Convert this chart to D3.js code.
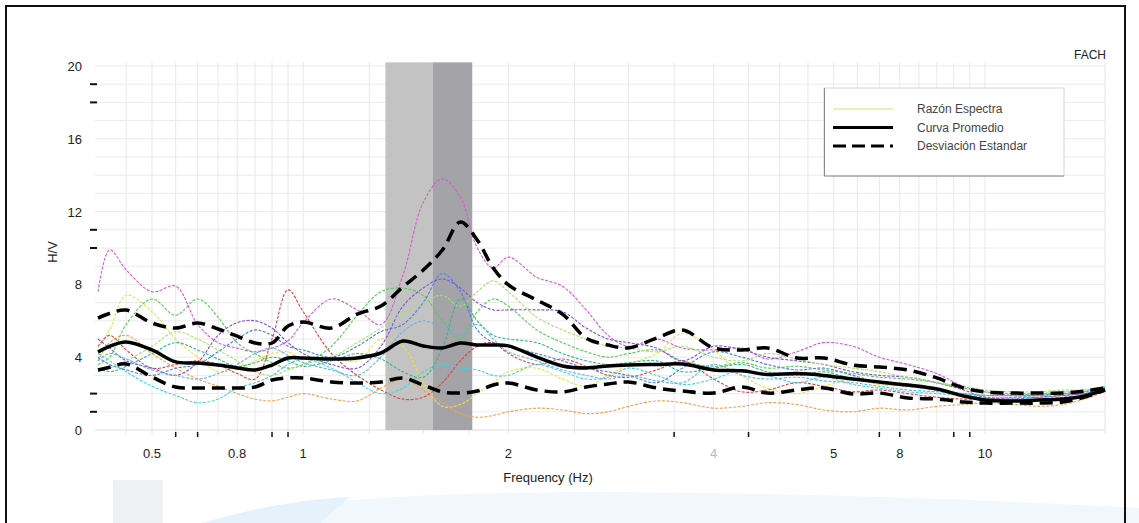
<!DOCTYPE html>
<html>
<head>
<meta charset="utf-8">
<script src="https://cdn.jsdelivr.net/npm/d3@7"></script>
<style>
	body { margin: 0; background: #fff; }
	svg { display: block; font-family: "Liberation Sans", Arial, sans-serif; }
</style>
</head>
<body>
<script>
// frecuencias (Hz) comunes a todas las curvas
var freqs = [0.5,0.52,0.55,0.6,0.65,0.7,0.75,0.8,0.85,0.9,0.95,1.0,1.1,1.2,1.3,1.4,1.5,1.6,1.7,1.8,1.9,2.0,2.2,2.4,2.6,2.8,3.0,3.3,3.6,4.0,4.4,4.8,5.3,5.8,6.4,7.0,7.7,8.5,9.3,10,11,12,13,14,15];

var promedio = [4.29,4.6,4.84,4.40,3.74,3.68,3.57,3.41,3.30,3.57,3.96,3.96,3.90,3.96,4.23,4.89,4.62,4.51,4.78,4.67,4.67,4.62,4.01,3.52,3.41,3.52,3.57,3.60,3.62,3.30,3.25,3.05,3.10,3.00,2.80,2.64,2.47,2.25,1.87,1.65,1.59,1.65,1.70,1.87,2.20];
var desvSup = [6.15,6.4,6.59,5.88,5.60,5.88,5.55,5.16,4.78,4.78,5.71,5.93,5.60,6.37,6.81,7.86,8.79,9.89,11.43,10.44,8.90,7.97,7.14,6.37,5.05,4.67,4.51,5.05,5.49,4.51,4.40,4.51,3.96,3.96,3.57,3.46,3.30,2.86,2.31,2.09,2.03,2.03,2.03,2.14,2.31];
var desvInf = [3.30,3.45,3.63,2.91,2.36,2.31,2.31,2.31,2.36,2.75,2.86,2.86,2.64,2.58,2.64,2.86,2.47,2.09,2.03,2.14,2.47,2.58,2.20,2.09,2.36,2.53,2.64,2.31,2.14,2.03,2.36,2.03,2.20,2.31,1.98,2.03,1.76,1.70,1.54,1.48,1.48,1.48,1.54,1.81,2.20];

// razones espectrales individuales
var razones = [
	{color: "#dd55dd", v: [7.6,9.9,8.8,7.6,7.9,5.8,4.8,4.5,4.3,4.5,4.9,5.9,7.2,6.6,5.8,8.5,12.5,13.8,12.8,10.0,8.9,9.5,8.4,7.9,6.6,5.2,4.6,5.0,4.5,4.4,4.5,3.9,4.3,4.8,4.6,4.0,3.6,3.1,2.4,2.1,1.9,1.9,2.0,2.0,2.2]},
	{color: "#55cc55", v: [3.6,4.0,5.8,7.2,6.3,7.2,6.2,4.8,4.2,3.7,3.4,3.6,4.6,6.3,7.6,7.8,7.4,6.0,5.0,6.5,7.2,6.8,5.5,4.8,4.3,4.0,4.2,4.4,3.8,3.5,3.7,3.4,3.5,3.3,3.1,2.9,2.8,2.6,2.3,2.1,2.0,2.0,2.1,2.1,2.3]},
	{color: "#ece050", v: [4.5,5.5,7.4,6.5,5.0,4.0,3.2,3.4,3.8,4.2,4.3,3.9,4.0,3.8,5.0,4.6,2.6,1.3,1.4,2.0,2.6,3.2,3.4,2.8,2.4,3.0,3.6,4.2,5.3,4.4,3.0,2.3,2.0,2.4,2.8,2.5,2.4,2.3,2.0,1.9,1.9,2.0,2.1,2.2,2.3]},
	{color: "#f0a050", v: [3.8,4.8,5.2,4.2,3.4,2.8,2.4,2.0,1.7,1.6,1.8,2.0,1.7,1.6,2.3,2.8,2.2,1.5,0.9,0.7,0.8,1.0,1.2,1.1,0.9,1.0,1.3,1.6,1.5,1.2,1.3,1.5,1.4,1.1,1.0,1.2,1.1,1.3,1.4,1.5,1.4,1.3,1.4,1.7,2.1]},
	{color: "#dd4444", v: [4.6,5.2,4.4,3.4,3.6,3.8,3.6,3.1,2.8,5.0,7.7,6.5,4.2,3.0,2.2,1.7,1.8,2.6,3.8,4.6,4.8,4.2,3.6,3.9,3.5,3.0,2.9,3.3,3.8,2.8,2.1,2.2,2.6,2.4,2.1,2.2,2.0,1.8,1.7,1.7,1.8,1.8,1.9,2.0,2.2]},
	{color: "#44d4dd", v: [4.2,3.8,3.2,2.4,1.9,1.5,1.7,2.3,2.6,3.0,3.6,3.9,3.4,2.6,2.0,2.3,3.2,3.6,3.4,3.3,3.0,3.0,3.6,3.2,2.8,2.9,3.4,3.0,2.5,2.8,3.3,3.0,2.6,2.9,2.5,2.3,2.1,2.0,1.9,1.8,1.8,1.9,2.0,2.1,2.4]},
	{color: "#4a7ee0", v: [4.0,3.6,3.3,3.0,3.4,3.6,4.3,5.0,5.5,5.2,4.6,4.4,4.0,4.6,5.4,5.8,7.0,8.6,7.6,5.5,4.8,4.6,4.2,3.8,3.4,3.2,3.0,2.6,3.4,4.3,4.0,3.6,3.3,3.4,3.0,2.6,2.4,2.2,1.9,1.7,1.7,1.8,1.9,2.0,2.3]},
	{color: "#8050e0", v: [5.0,4.5,3.8,3.4,3.0,3.7,5.2,5.9,6.0,5.6,4.8,4.2,3.6,3.4,4.6,6.8,7.8,8.3,7.8,7.0,6.6,6.6,6.6,6.5,5.6,5.0,4.8,4.5,3.8,4.6,4.4,4.0,3.8,3.6,3.2,3.0,2.9,2.6,2.2,1.8,1.7,1.7,1.8,1.9,2.2]},
	{color: "#a8e070", v: [3.2,3.4,3.8,4.6,5.4,5.0,4.4,3.8,3.2,3.0,3.3,3.6,4.0,4.8,5.6,6.4,7.0,7.4,6.8,7.6,8.2,7.6,6.2,5.5,5.0,4.6,4.5,4.3,4.6,4.0,3.8,4.2,3.9,3.6,3.4,3.2,2.9,2.6,2.4,2.2,2.1,2.1,2.2,2.2,2.4]},
	{color: "#30b890", v: [3.4,3.2,3.5,4.2,4.8,4.4,3.9,3.5,3.7,4.0,3.8,3.5,3.8,4.2,3.9,3.2,2.9,4.5,7.2,6.0,5.2,5.0,4.8,4.2,3.8,3.6,3.7,3.8,3.2,3.4,3.6,3.2,3.0,3.2,2.8,2.6,2.4,2.2,2.0,1.9,1.9,1.9,2.0,2.1,2.3]},
	{color: "#60b4f0", v: [3.8,4.2,3.9,3.3,3.0,2.8,3.1,3.6,4.2,4.5,4.1,3.7,3.3,3.0,4.0,5.4,6.0,5.6,5.2,5.8,5.0,4.3,3.8,3.3,3.0,2.8,3.0,2.7,2.6,3.6,3.0,2.8,2.9,2.7,2.6,2.4,2.2,2.1,2.0,1.9,1.9,2.0,2.0,2.1,2.4]}
];

// bandas sombreadas (Hz)
var bandaClara = [1.32, 1.55];
var bandaOscura = [1.55, 1.77];

// ejes
var yTicks = [0, 4, 8, 12, 16, 20];
var yGrid = d3.range(1, 21);
var yMarcas = [1, 2, 10, 11, 18, 19];
var xTickFreqs = [0.6, 0.8, 1, 2, 4, 6, 7.5, 10];
var xTickLabels = ["0.5", "0.8", "1", "2", "4", "5", "8", "10"];
var xGrid = [0.55,0.6,0.65,0.7,0.75,0.8,0.85,0.9,0.95,1,1.25,1.5,1.75,2,2.5,3,3.5,4,4.5,5,5.5,6,6.5,7,7.5,8,8.5,9,9.5,10];
var xMarcas = [0.65, 0.7, 0.9, 0.95, 3.5, 4.5, 7, 7.5, 9, 9.5];

var leyenda = ["Razón Espectra", "Curva Promedio", "Desviación Estandar"];

(function(w){
	var u = {
		W: 1139, H: 523,
		main: function(){
			var svg = d3.select("body").append("svg")
				.attr("width", u.W).attr("height", u.H);

			// marca de agua clara al fondo
			var wm = svg.append("g").attr("class", "watermark");
			wm.append("path").attr("d", "M200,523 C290,500 430,492 600,492 C800,493 1000,500 1139,508 L1139,523 Z")
				.attr("fill", "#f0f8fd");
			wm.append("path").attr("d", "M205,523 C250,508 300,500 350,497 L320,523 Z").attr("fill", "#e5f2fb");
			wm.append("rect").attr("x", 113).attr("y", 480).attr("width", 50).attr("height", 43).attr("fill", "#eef1f4");

			// marco exterior
			svg.append("rect").attr("x", 6).attr("y", 6).attr("width", 1119).attr("height", 530)
				.attr("fill", "none").attr("stroke", "#111").attr("stroke-width", 2);

			var x = d3.scaleLog().domain([0.5, 15]).range([98, 1105]);
			var y = d3.scaleLinear().domain([0, 20]).range([430, 66]);

			// rejilla
			var g = svg.append("g");
			g.selectAll(".gy").data(yGrid).enter().append("line")
				.attr("x1", x(0.5) - 3).attr("x2", x(15))
				.attr("y1", function(d){ return y(d); }).attr("y2", function(d){ return y(d); })
				.attr("stroke", "#ebebeb").attr("stroke-width", 1);
			g.selectAll(".gx").data(xGrid).enter().append("line")
				.attr("x1", function(d){ return x(d); }).attr("x2", function(d){ return x(d); })
				.attr("y1", y(20.2)).attr("y2", y(0) + 4)
				.attr("stroke", "#e8e8e8").attr("stroke-width", 1);
			g.append("line").attr("x1", x(0.5) - 3).attr("x2", x(15)).attr("y1", y(0)).attr("y2", y(0))
				.attr("stroke", "#dcdcdc");
			g.append("line").attr("x1", x(15)).attr("x2", x(15)).attr("y1", y(20.2)).attr("y2", y(0) + 4)
				.attr("stroke", "#e4e4e4");

			// bandas
			g.append("rect").attr("x", x(bandaClara[0])).attr("width", x(bandaClara[1]) - x(bandaClara[0]))
				.attr("y", y(20.2)).attr("height", y(0) - y(20.2)).attr("fill", "#c3c3c3");
			g.append("rect").attr("x", x(bandaOscura[0])).attr("width", x(bandaOscura[1]) - x(bandaOscura[0]))
				.attr("y", y(20.2)).attr("height", y(0) - y(20.2)).attr("fill", "#a3a3a8");

			var line = d3.line()
				.x(function(d, i){ return x(freqs[i]); })
				.y(function(d){ return y(d); })
				.curve(d3.curveCatmullRom.alpha(0.5));

			// razones espectrales
			g.selectAll(".razon").data(razones).enter().append("path")
				.attr("class", "razon")
				.attr("d", function(d){ return line(d.v); })
				.attr("fill", "none").attr("stroke", function(d){ return d.color; })
				.attr("stroke-width", 1.1).attr("stroke-dasharray", "3,1.5");

			// promedio y desviaciones
			g.append("path").attr("d", line(desvSup)).attr("fill", "none")
				.attr("stroke", "#000").attr("stroke-width", 3.5).attr("stroke-dasharray", "13,7");
			g.append("path").attr("d", line(desvInf)).attr("fill", "none")
				.attr("stroke", "#000").attr("stroke-width", 3.5).attr("stroke-dasharray", "13,7");
			g.append("path").attr("d", line(promedio)).attr("fill", "none")
				.attr("stroke", "#000").attr("stroke-width", 3.5);

			// eje y
			g.selectAll(".yl").data(yTicks).enter().append("text")
				.attr("x", 82).attr("y", function(d){ return y(d) + 5; })
				.attr("text-anchor", "end").attr("font-size", 13).attr("fill", "#222")
				.text(function(d){ return d; });
			g.selectAll(".ym").data(yMarcas).enter().append("line")
				.attr("x1", 90).attr("x2", 97)
				.attr("y1", function(d){ return y(d); }).attr("y2", function(d){ return y(d); })
				.attr("stroke", "#111").attr("stroke-width", 2);

			// eje x
			g.selectAll(".xm").data(xMarcas).enter().append("line")
				.attr("x1", function(d){ return x(d); }).attr("x2", function(d){ return x(d); })
				.attr("y1", y(0) + 2).attr("y2", y(0) + 7)
				.attr("stroke", "#111").attr("stroke-width", 1.5);
			g.selectAll(".xl").data(xTickFreqs).enter().append("text")
				.attr("x", function(d){ return x(d); }).attr("y", 458)
				.attr("text-anchor", "middle").attr("font-size", 13)
				.attr("fill", function(d, i){ return xTickLabels[i] == "4" ? "#bbb" : "#222"; })
				.text(function(d, i){ return xTickLabels[i]; });

			svg.append("text").attr("x", 548).attr("y", 482).attr("text-anchor", "middle")
				.attr("font-size", 13).attr("fill", "#222")
				.text("Frequency (Hz)");
			svg.append("text").attr("transform", "translate(57,252) rotate(-90)")
				.attr("text-anchor", "middle").attr("font-size", 13).attr("fill", "#222")
				.text("H/V");
			svg.append("text").attr("x", 1106).attr("y", 59).attr("text-anchor", "end")
				.attr("font-size", 12).attr("fill", "#222").text("FACH");

			// leyenda
			var lg = svg.append("g").attr("transform", "translate(824,88)");
			lg.append("rect").attr("width", 240).attr("height", 88).attr("fill", "#fff")
				.attr("stroke", "#d6d6d6");
			lg.append("path").attr("d", "M0.5,0 V88 H240").attr("fill", "none").attr("stroke", "#8a8a8a");
			var estilos = [
				{stroke: "#e4eea0", width: 1.5, dash: null},
				{stroke: "#000", width: 3, dash: null},
				{stroke: "#000", width: 3, dash: "13,6"}
			];
			leyenda.forEach(function(t, i){
				var yy = 21 + i * 18.5;
				lg.append("line").attr("x1", 9).attr("x2", 69).attr("y1", yy).attr("y2", yy)
					.attr("stroke", estilos[i].stroke).attr("stroke-width", estilos[i].width)
					.attr("stroke-dasharray", estilos[i].dash);
				lg.append("text").attr("x", 93).attr("y", yy + 4).attr("font-size", 12)
					.attr("fill", "#444").text(t);
			});
		}
	};
	u.main();
})(window);
</script>
</body>
</html>
